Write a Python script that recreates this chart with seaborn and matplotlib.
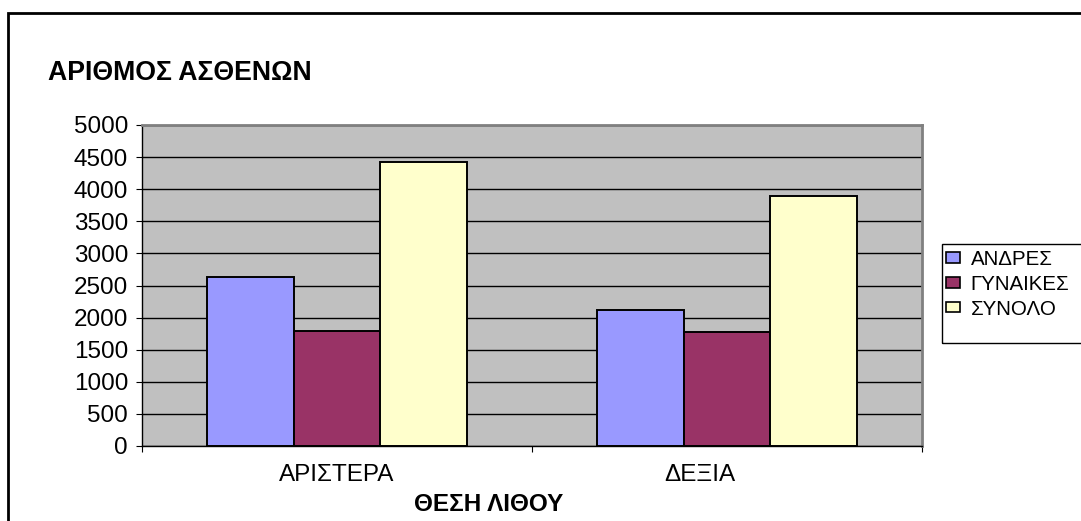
import pandas as pd
import matplotlib
matplotlib.use('Agg')
import matplotlib.pyplot as plt
import matplotlib.patches as mpatches
import matplotlib.transforms as mtransforms
import seaborn as sns

# Data
positions = ['ΑΡΙΣΤΕΡΑ', 'ΔΕΞΙΑ']
groups = ['ΑΝΔΡΕΣ', 'ΓΥΝΑΙΚΕΣ', 'ΣΥΝΟΛΟ']
men = [2640, 2120]
women = [1790, 1770]
total = [4430, 3890]
colors = ['#9999FF', '#993366', '#FFFFCC']

df = pd.DataFrame({
    'position': positions * 3,
    'group': [g for g in groups for _ in positions],
    'count': men + women + total,
})

plt.rcParams['font.family'] = ['Liberation Sans', 'DejaVu Sans']

W, H = 1081, 521
fig = plt.figure(figsize=(W / 100, H / 100), dpi=100)
ax = fig.add_axes([142 / W, 1 - 446 / H, 780 / W, 321 / H])

sns.barplot(data=df, x='position', y='count', hue='group', order=positions,
            hue_order=groups, palette=colors, saturation=1, width=0.668, gap=0,
            edgecolor='black', linewidth=1.4, legend=False, ax=ax)

# Plot area styling (Excel look)
ax.set_facecolor('#C0C0C0')
ax.set_axisbelow(True)
ax.set_ylim(0, 5000)
ax.set_xlim(-0.5, 1.5)
ax.set_yticks(range(0, 5001, 500))
ax.yaxis.grid(True, color='black', linewidth=1)
ax.xaxis.grid(False)
for side in ['top', 'right']:
    ax.spines[side].set_color('#808080')
    ax.spines[side].set_linewidth(2)
for side in ['left', 'bottom']:
    ax.spines[side].set_color('black')
    ax.spines[side].set_linewidth(1)

ax.tick_params(axis='y', labelsize=17.5, length=4.5, width=0.8, pad=5.5)

# category ticks at boundaries, labels at centres
ax.set_xticks([-0.5, 0.5, 1.5])
ax.set_xticklabels([])
ax.tick_params(axis='x', which='major', length=4, width=0.8)
ax.set_xticks([0, 1], minor=True)
ax.set_xticklabels(positions, minor=True)
ax.tick_params(axis='x', which='minor', length=0, labelsize=17.5, pad=13)
lab = ax.get_xticklabels(minor=True)[1]
lab.set_transform(lab.get_transform() + mtransforms.ScaledTranslation(-0.27, 0, fig.dpi_scale_trans))

ax.set_ylabel('')
ax.set_xlabel('ΘΕΣΗ ΛΙΘΟΥ', fontsize=17.5, fontweight='bold')
ax.xaxis.set_label_coords((489 - 142) / 780, -(493 - 446) / 321)

# Title
fig.text(48 / W, 1 - 80 / H, 'ΑΡΙΘΜΟΣ ΑΣΘΕΝΩΝ', fontsize=19.2,
         fontweight='bold', va='baseline', ha='left')

# Legend with Excel-like box running off the right edge
handles = [mpatches.Patch(facecolor=c, edgecolor='black', linewidth=1.2, label=g)
           for c, g in zip(colors, groups)]
fig.legend(handles=handles, loc='upper left', bbox_to_anchor=(946 / W, 1 - 250 / H),
           frameon=False, fontsize=14.8, handlelength=0.7, handleheight=0.4,
           handletextpad=0.5, labelspacing=0.28, borderpad=0, borderaxespad=0)
fig.patches.append(mpatches.Rectangle((942 / W, 1 - 343 / H), 200 / W, 99 / H,
                                      transform=fig.transFigure, fill=False,
                                      edgecolor='black', linewidth=1, clip_on=False))

# Outer chart frame
fig.patches.append(mpatches.Rectangle((8 / W, -20 / H), 1100 / W, (521 - 13 + 20) / H,
                                      transform=fig.transFigure, fill=False,
                                      edgecolor='black', linewidth=2, clip_on=False))

fig.savefig('out.png', dpi=100, facecolor='white')
